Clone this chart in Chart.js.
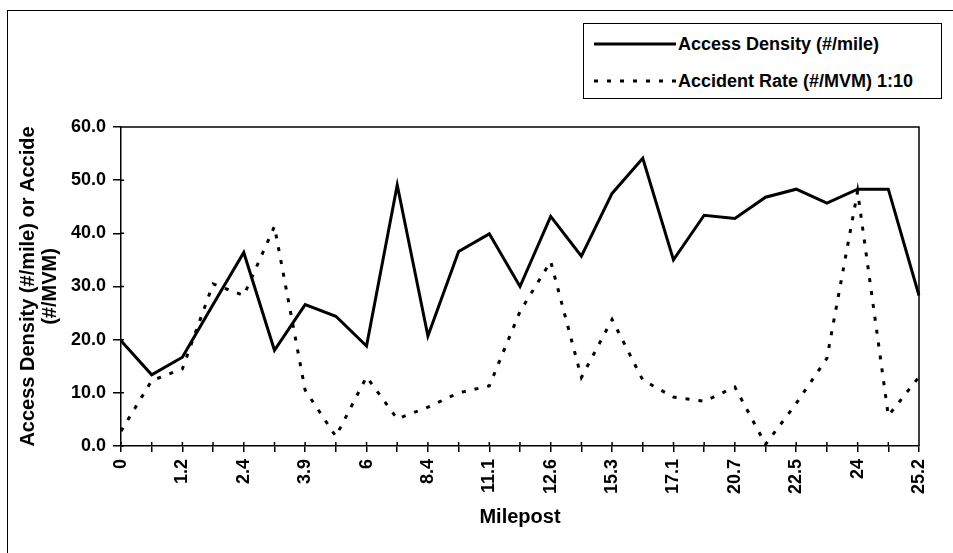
<!DOCTYPE html>
<html>
<head>
<meta charset="utf-8">
<script src="https://cdn.jsdelivr.net/npm/chart.js@4.4.0/dist/chart.umd.min.js"></script>
<style>
html, body { margin: 0; padding: 0; background: #fff; }
#wrap { position: relative; width: 953px; height: 553px; overflow: hidden; }
#frame { position: absolute; left: 7px; top: 10px; width: 980px; height: 580px;
  border-left: 1.5px solid #000; border-top: 1.5px solid #000; }
#legend { position: absolute; left: 583px; top: 23px; width: 359px; height: 76px;
  box-sizing: border-box; border: 1.5px solid #000; background: #fff;
  font: bold 18px "Liberation Sans", Arial, sans-serif; color: #000; }
.row { position: absolute; left: 10px; height: 22px; display: flex; align-items: center; white-space: nowrap; }
.row svg { margin-right: 2px; }
</style>
</head>
<body>
<div id="wrap">
  <div id="frame"></div>
  <canvas id="myChart" width="953" height="553"></canvas>
  <div id="legend"></div>
</div>
<script>
// milepost categories (only every other one is labelled on the axis)
const mileposts = ["0", "", "1.2", "", "2.4", "", "3.9", "", "6", "", "8.4", "", "11.1", "",
  "12.6", "", "15.3", "", "17.1", "", "20.7", "", "22.5", "", "24", "", "25.2"];

// Access Density (#/mile)
const accessDensity = [19.8, 13.4, 16.7, 26.6, 36.4, 18.0, 26.6, 24.4, 18.8, 49.1, 20.7, 36.6, 39.9, 30.0,
  43.2, 35.7, 47.5, 54.1, 35.0, 43.4, 42.8, 46.8, 48.3, 45.7, 48.3, 48.3, 28.3];

// Accident Rate (#/MVM) plotted 1:10
const accidentRate = [2.8, 12.3, 14.5, 30.5, 28.3, 41.3, 10.5, 1.8, 13.0, 5.1, 7.3, 10.0, 11.3, 25.3,
  34.7, 12.9, 23.8, 12.4, 9.2, 8.4, 11.1, 0.3, 8.0, 16.5, 47.9, 5.7, 13.0];

const yTicks = [0, 10, 20, 30, 40, 50, 60];

const FONT = '"Liberation Sans", Arial, sans-serif';
const ctx = document.getElementById('myChart').getContext('2d');

// box round the plot area (top and right edges) + tick marks crossing into the plot
const plotBox = {
  id: 'plotBox',
  afterDraw(c) {
    const a = c.chartArea, g = c.ctx;
    g.save();
    g.strokeStyle = '#000';
    g.lineWidth = 1.5;
    g.beginPath();
    g.moveTo(a.left, a.top);
    g.lineTo(a.right, a.top);
    g.lineTo(a.right, a.bottom);
    c.scales.y.ticks.forEach((t, i) => {
      const py = c.scales.y.getPixelForTick(i);
      g.moveTo(a.left, py);
      g.lineTo(a.left + 3, py);
    });
    c.scales.x.ticks.forEach((t, i) => {
      const px = c.scales.x.getPixelForTick(i);
      g.moveTo(px, a.bottom);
      g.lineTo(px, a.bottom - 4);
    });
    g.stroke();
    g.restore();
  }
};

const chart = new Chart(ctx, {
  type: 'line',
  data: {
    labels: mileposts,
    datasets: [
      { label: 'Access Density (#/mile)', data: accessDensity, borderColor: '#000', borderWidth: 3,
        pointRadius: 0, tension: 0, fill: false },
      { label: 'Accident Rate (#/MVM) 1:10', data: accidentRate, borderColor: '#000', borderWidth: 3,
        borderDash: [4, 9], pointRadius: 0, tension: 0, fill: false }
    ]
  },
  options: {
    responsive: false,
    animation: false,
    devicePixelRatio: 1,
    layout: { padding: { top: 127, right: 34, left: 0, bottom: 0 } },
    plugins: { legend: { display: false }, tooltip: { enabled: false } },
    scales: {
      x: {
        type: 'category',
        offset: false,
        afterFit(s) { s.height = 107; },
        border: { display: true, color: '#000', width: 1.5 },
        grid: { display: true, drawOnChartArea: false, color: '#000', lineWidth: 1.5, tickLength: 6 },
        ticks: { autoSkip: false, minRotation: 90, maxRotation: 90, padding: 7, color: '#000',
          font: { family: FONT, size: 18, weight: 'bold' } },
        title: { display: true, text: 'Milepost', color: '#000',
          font: { family: FONT, size: 20, weight: 'bold' }, padding: { top: 0, bottom: 24 } }
      },
      y: {
        min: 0, max: 60,
        afterFit(s) { s.width = 121; },
        afterBuildTicks(s) { s.ticks = yTicks.map(v => ({ value: v })); },
        border: { display: true, color: '#000', width: 1.5 },
        grid: { display: true, drawOnChartArea: false, color: '#000', lineWidth: 1.5, tickLength: 8 },
        ticks: { padding: 7, color: '#000', callback: v => Number(v).toFixed(1),
          font: { family: FONT, size: 18, weight: 'bold' } },
        title: { display: true, text: ['Access Density (#/mile) or Accide', '(#/MVM)'], color: '#000',
          font: { family: FONT, size: 20, weight: 'bold', lineHeight: 1.1 }, padding: { top: 17, bottom: 0 } }
      }
    }
  },
  plugins: [plotBox]
});

// legend box built from the dataset styles
const legend = document.getElementById('legend');
const rowTops = [9, 46];
chart.data.datasets.forEach((ds, i) => {
  const row = document.createElement('div');
  row.className = 'row';
  row.style.top = rowTops[i] + 'px';
  const dash = ds.borderDash ? ds.borderDash.join(' ') : 'none';
  row.innerHTML = '<svg width="82" height="8"><line x1="0" y1="4" x2="82" y2="4" stroke="' + ds.borderColor +
    '" stroke-width="' + ds.borderWidth + '" stroke-dasharray="' + dash + '"/></svg>';
  const span = document.createElement('span');
  span.textContent = ds.label;
  row.appendChild(span);
  legend.appendChild(row);
});
</script>
</body>
</html>
